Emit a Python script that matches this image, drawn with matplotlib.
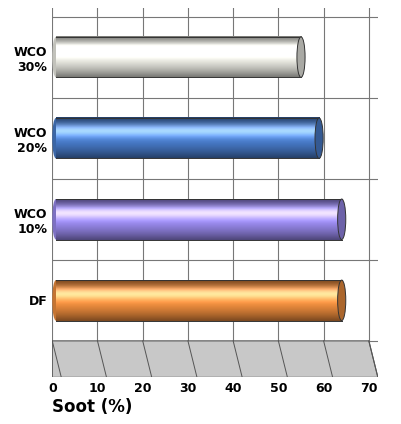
import numpy as np
import matplotlib
matplotlib.use("Agg")
import matplotlib.pyplot as plt
from matplotlib.patches import Ellipse, Polygon
from matplotlib.colors import to_rgb

categories = ["DF", "WCO\n10%", "WCO\n20%", "WCO\n30%"]
soot = [64, 64, 59, 55]
colors = ["#f5913f", "#9c8cf2", "#4a7fd0", "#f2f2ea"]
ticks = [0, 10, 20, 30, 40, 50, 60, 70]

fig = plt.figure(figsize=(4.02, 4.24), dpi=100)
ax = fig.add_axes([0.13, 0.11, 0.81, 0.87])
ax.set_xlim(0, 72)
ax.set_ylim(-0.95, 3.6)

# back wall grid
for t in ticks:
    ax.axvline(t, color="#777777", lw=0.8, zorder=0)
for y in [-0.5, 0.5, 1.5, 2.5, 3.5]:
    ax.axhline(y, color="#777777", lw=0.8, zorder=0)

# floor
floor = Polygon([(0, -0.5), (70, -0.5), (72, -0.95), (0, -0.95)],
                closed=True, facecolor="#c8c8c8", edgecolor="#555555", lw=0.8, zorder=1)
ax.add_patch(floor)
for t in ticks:
    ax.plot([t, t + 2], [-0.5, -0.95], color="#555555", lw=0.7, zorder=1)

h = 0.5
for i, (v, c) in enumerate(zip(soot, colors)):
    base = np.array(to_rgb(c))
    g = np.linspace(-1, 1, 64)
    shade = 1 - 0.5 * np.abs(g) ** 1.5
    light = np.exp(-((g - 0.35) / 0.3) ** 2) * 0.4
    img = np.clip(base[None, :] * shade[:, None] + light[:, None], 0, 1)
    img = np.repeat(img[:, None, :], 2, axis=1)
    ax.imshow(img, extent=[0.8, v, i - h / 2, i + h / 2], aspect="auto",
              origin="lower", zorder=3, interpolation="bilinear")
    ax.add_patch(Ellipse((0.8, i), 1.6, h, facecolor=base * 0.8, edgecolor="none", zorder=2))
    ax.plot([0.8, v], [i + h / 2, i + h / 2], color="#333333", lw=0.7, zorder=4)
    ax.plot([0.8, v], [i - h / 2, i - h / 2], color="#333333", lw=0.7, zorder=4)
    ax.add_patch(Ellipse((v, i), 1.8, h, facecolor=base * 0.7,
                         edgecolor="#333333", lw=0.7, zorder=5))

ax.set_xticks(ticks)
ax.set_xticklabels([str(t) for t in ticks], fontsize=9, fontweight="bold")
ax.set_yticks(range(len(categories)))
ax.set_yticklabels(categories, fontsize=9, fontweight="bold")
ax.tick_params(length=0)
for s in ax.spines.values():
    s.set_visible(False)
ax.set_xlabel("Soot (%)", fontsize=12, fontweight="bold", loc="left", labelpad=2)

fig.savefig("out.png", dpi=100)
